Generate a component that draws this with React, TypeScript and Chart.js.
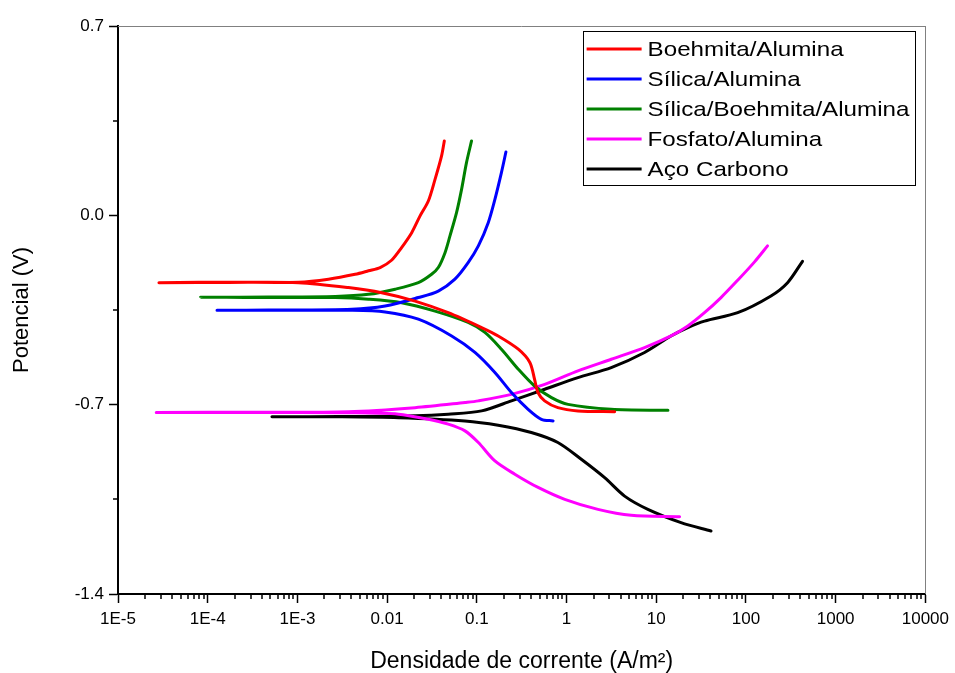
import React, { useEffect, useRef } from "react";
import { Chart, registerables } from "chart.js";

Chart.register(...registerables);

const seriesNames = [
  "Boehmita/Alumina",
  "Sílica/Alumina",
  "Sílica/Boehmita/Alumina",
  "Fosfato/Alumina",
  "Aço Carbono",
];
const seriesColors = ["#ff0000", "#0000ff", "#008000", "#ff00ff", "#000000"];

const xTickValues = [1e-5, 1e-4, 1e-3, 0.01, 0.1, 1, 10, 100, 1000, 10000];
const xTickLabels = ["1E-5", "1E-4", "1E-3", "0.01", "0.1", "1", "10", "100", "1000", "10000"];
const yTickValues = [-1.4, -0.7, 0, 0.7];
const yTickLabels = ["-1.4", "-0.7", "0.0", "0.7"];
const yMinorValues = [-1.05, -0.35, 0.35];

// Boehmita/Alumina (current density A/m2, potential V)
const boehmitaX = [3.44, 1.34, 0.8, 0.57, 0.48, 0.44, 0.39, 0.29, 0.173, 0.113, 0.048, 0.0205, 0.0087, 0.0037, 0.00103, 1.72e-4, 2.86e-5, 1.72e-4, 1.03e-3, 0.00222, 0.0044, 0.0062, 0.00836, 0.0112, 0.0145, 0.0188, 0.0233, 0.0288, 0.0342, 0.0404, 0.0434];
const boehmitaY = [-0.726, -0.723, -0.711, -0.686, -0.655, -0.606, -0.544, -0.495, -0.446, -0.415, -0.36, -0.317, -0.286, -0.267, -0.249, -0.248, -0.249, -0.247, -0.247, -0.236, -0.218, -0.205, -0.193, -0.166, -0.119, -0.064, -0.002, 0.053, 0.133, 0.219, 0.275];

// Sílica/Alumina
const silicaX = [0.708, 0.525, 0.373, 0.243, 0.159, 0.0953, 0.0524, 0.0223, 0.0095, 0.00404, 4.79e-4, 1.27e-4, 4.79e-4, 0.00404, 0.0095, 0.0223, 0.0372, 0.057, 0.08, 0.104, 0.134, 0.159, 0.188, 0.211];
const silicaY = [-0.76, -0.754, -0.717, -0.655, -0.581, -0.507, -0.446, -0.384, -0.357, -0.351, -0.351, -0.351, -0.35, -0.347, -0.335, -0.304, -0.28, -0.236, -0.175, -0.113, -0.027, 0.059, 0.158, 0.234];

// Sílica/Boehmita/Alumina
const sbaX = [13.5, 3.15, 1.04, 0.68, 0.44, 0.29, 0.188, 0.123, 0.08, 0.0342, 0.0145, 0.0062, 0.00264, 4.79e-4, 8.3e-5, 4.79e-4, 0.00264, 0.0062, 0.0123, 0.0223, 0.0313, 0.0372, 0.0442, 0.0502, 0.0594, 0.0676, 0.0767, 0.0873];
const sbaY = [-0.721, -0.717, -0.699, -0.674, -0.631, -0.569, -0.495, -0.433, -0.396, -0.354, -0.323, -0.31, -0.304, -0.304, -0.303, -0.302, -0.3, -0.292, -0.273, -0.249, -0.218, -0.193, -0.138, -0.076, 0.01, 0.096, 0.195, 0.275];

// Fosfato/Alumina
const fosfatoX = [18.2, 5.26, 2.24, 0.955, 0.482, 0.265, 0.159, 0.104, 0.0738, 0.048, 0.0288, 0.0134, 0.0037, 2.86e-4, 2.67e-5, 2.86e-4, 0.0037, 0.0205, 0.0738, 0.104, 0.243, 0.571, 1.34, 3.15, 7.41, 14.6, 22.5, 34.5, 52.7, 80.9, 124, 174];
const fosfatoY = [-1.114, -1.109, -1.087, -1.05, -1.006, -0.957, -0.908, -0.84, -0.797, -0.772, -0.754, -0.735, -0.73, -0.729, -0.729, -0.728, -0.726, -0.711, -0.692, -0.686, -0.662, -0.625, -0.575, -0.532, -0.489, -0.446, -0.409, -0.36, -0.304, -0.24, -0.173, -0.113];

// Aço Carbono
const acoX = [40.8, 18.9, 8.07, 4.44, 2.66, 1.46, 0.8, 0.405, 0.173, 0.0738, 0.0134, 0.00287, 5.2e-4, 0.00287, 0.0205, 0.048, 0.113, 0.243, 0.571, 1.34, 3.15, 7.41, 14.6, 22.5, 34.5, 80.9, 190, 291, 427];
const acoY = [-1.167, -1.136, -1.087, -1.038, -0.97, -0.902, -0.84, -0.803, -0.776, -0.76, -0.748, -0.745, -0.745, -0.744, -0.741, -0.735, -0.723, -0.686, -0.643, -0.6, -0.563, -0.507, -0.446, -0.415, -0.391, -0.36, -0.298, -0.249, -0.17];

const seriesX = [boehmitaX, silicaX, sbaX, fosfatoX, acoX];
const seriesY = [boehmitaY, silicaY, sbaY, fosfatoY, acoY];

const FONT = "'Liberation Sans', Arial, sans-serif";

const framePlugin = {
  id: "frameAndMinor",
  afterDraw(chart: any) {
    const { ctx, chartArea } = chart;
    const x = chart.scales.x;
    const y = chart.scales.y;
    ctx.save();
    ctx.strokeStyle = "#808080";
    ctx.lineWidth = 1;
    ctx.beginPath();
    ctx.moveTo(chartArea.left, Math.round(chartArea.top) + 0.5);
    ctx.lineTo(chartArea.right, Math.round(chartArea.top) + 0.5);
    ctx.moveTo(Math.round(chartArea.right) + 0.5, chartArea.top);
    ctx.lineTo(Math.round(chartArea.right) + 0.5, chartArea.bottom);
    ctx.stroke();
    ctx.strokeStyle = "#000";
    ctx.lineWidth = 1.5;
    ctx.beginPath();
    for (let e = -5; e < 4; e++) {
      for (let k = 2; k < 10; k++) {
        const px = Math.round(x.getPixelForValue(k * Math.pow(10, e)));
        ctx.moveTo(px, chartArea.bottom);
        ctx.lineTo(px, chartArea.bottom + 5);
      }
    }
    for (const v of yMinorValues) {
      const py = Math.round(y.getPixelForValue(v));
      ctx.moveTo(chartArea.left - 5, py);
      ctx.lineTo(chartArea.left, py);
    }
    ctx.stroke();
    ctx.restore();
  },
};

const legendPlugin = {
  id: "boxLegend",
  afterDraw(chart: any) {
    const { ctx, chartArea } = chart;
    const sx = 1.15;
    const fontSize = 21;
    ctx.save();
    ctx.font = `${fontSize}px ${FONT}`;
    const datasets = chart.data.datasets;
    let maxW = 0;
    datasets.forEach((d: any) => {
      maxW = Math.max(maxW, ctx.measureText(d.label).width * sx);
    });
    const rowH = 30;
    const lineLen = 55;
    const w = 4 + lineLen + 6 + maxW + 5;
    const h = datasets.length * rowH + 4;
    const right = chartArea.right - 11;
    const left = right - w;
    const top = chartArea.top + 5;
    ctx.strokeStyle = "#000";
    ctx.lineWidth = 1;
    ctx.strokeRect(Math.round(left) + 0.5, Math.round(top) + 0.5, Math.round(w), Math.round(h));
    datasets.forEach((d: any, i: number) => {
      const cy = top + 18 + i * rowH;
      ctx.strokeStyle = d.borderColor;
      ctx.lineWidth = 3;
      ctx.beginPath();
      ctx.moveTo(left + 4, cy);
      ctx.lineTo(left + 4 + lineLen, cy);
      ctx.stroke();
      ctx.save();
      ctx.translate(left + 4 + lineLen + 6, cy + 1);
      ctx.scale(sx, 1);
      ctx.fillStyle = "#000";
      ctx.textBaseline = "middle";
      ctx.textAlign = "left";
      ctx.fillText(d.label, 0, 0);
      ctx.restore();
    });
    ctx.restore();
  },
};

export default function App() {
  const canvasRef = useRef<HTMLCanvasElement | null>(null);

  useEffect(() => {
    if (!canvasRef.current) return;
    Chart.defaults.font.family = FONT;
    Chart.defaults.color = "#000";
    const datasets = seriesNames.map((name, i) => ({
      label: name,
      data: seriesX[i].map((xv, j) => ({ x: xv, y: seriesY[i][j] })),
      borderColor: seriesColors[i],
      backgroundColor: seriesColors[i],
      borderWidth: 3,
      borderJoinStyle: "round",
      borderCapStyle: "round",
      pointRadius: 0,
      showLine: true,
      tension: 0.3,
      fill: false,
    }));
    const chart = new Chart(canvasRef.current, {
      type: "scatter",
      data: { datasets },
      options: {
        responsive: false,
        animation: false,
        events: [],
        layout: { padding: { left: 0, right: 27, top: 26, bottom: 0 } },
        plugins: {
          legend: { display: false },
          tooltip: { enabled: false },
        },
        scales: {
          x: {
            type: "logarithmic",
            min: 1e-5,
            max: 1e4,
            afterBuildTicks: (scale: any) => {
              scale.ticks = xTickValues.map((v) => ({ value: v }));
            },
            afterFit: (scale: any) => {
              scale.height = 79;
            },
            ticks: {
              autoSkip: false,
              maxRotation: 0,
              padding: 6,
              font: { size: 17 },
              color: "#000",
              callback: (_v: any, idx: number) => xTickLabels[idx],
            },
            grid: {
              drawOnChartArea: false,
              drawTicks: true,
              tickLength: 9,
              tickWidth: 1.5,
              tickColor: "#000",
            },
            border: { display: true, color: "#000", width: 2 },
            title: {
              display: true,
              text: "Densidade de corrente (A/m²)",
              font: { size: 23, lineHeight: 1 },
              color: "#000",
              padding: { top: 0, bottom: 0 },
            },
          },
          y: {
            type: "linear",
            min: -1.4,
            max: 0.7,
            afterBuildTicks: (scale: any) => {
              scale.ticks = yTickValues.map((v) => ({ value: v }));
            },
            afterFit: (scale: any) => {
              scale.width = 118;
            },
            ticks: {
              padding: 5,
              font: { size: 17 },
              color: "#000",
              callback: (_v: any, idx: number) => yTickLabels[idx],
            },
            grid: {
              drawOnChartArea: false,
              drawTicks: true,
              tickLength: 9,
              tickWidth: 1.5,
              tickColor: "#000",
            },
            border: { display: true, color: "#000", width: 2 },
            title: {
              display: true,
              text: "Potencial (V)",
              font: { size: 22, lineHeight: 1 },
              color: "#000",
              padding: { top: 11, bottom: 0 },
            },
          },
        },
      },
      plugins: [framePlugin, legendPlugin],
    } as any);
    return () => chart.destroy();
  }, []);

  return (
    <div style={{ position: "fixed", left: 0, top: 0, width: 955, height: 673, background: "#fff" }}>
      <canvas ref={canvasRef} width={955} height={673} />
    </div>
  );
}
